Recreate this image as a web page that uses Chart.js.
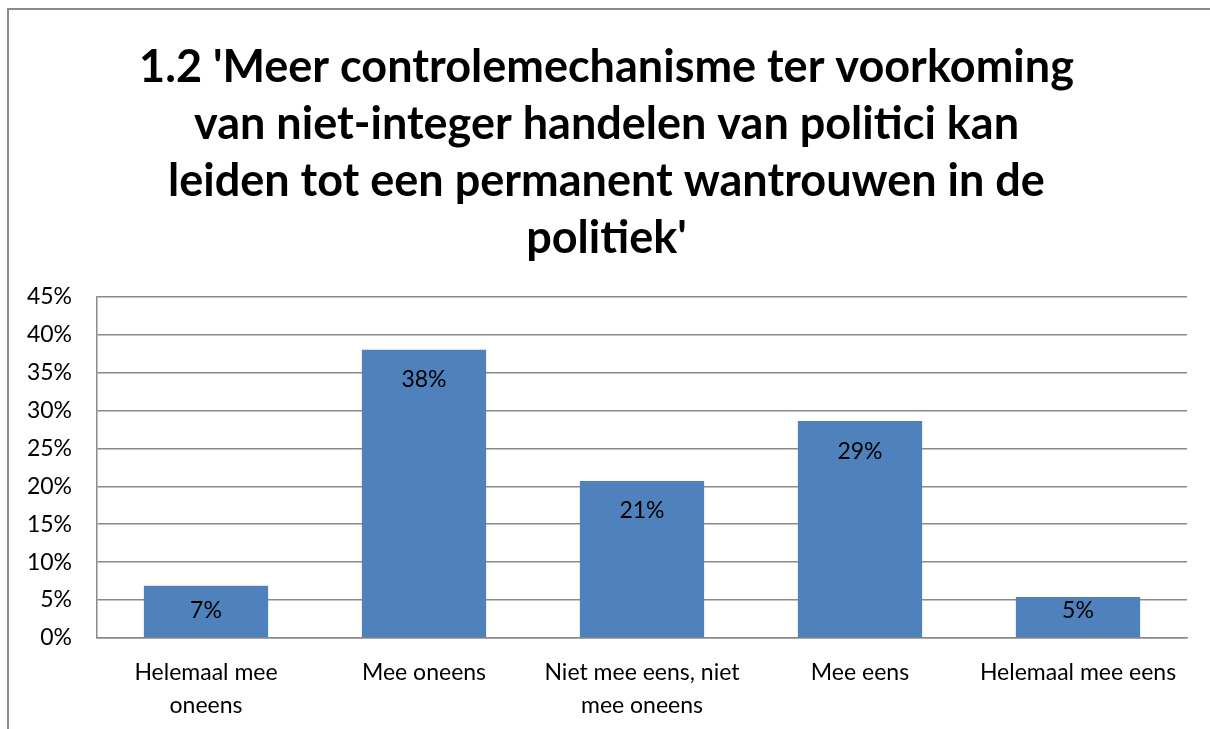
<!DOCTYPE html>
<html>
<head>
<meta charset="utf-8">
<script src="https://cdn.jsdelivr.net/npm/chart.js@4"></script>
<style>
  html, body { margin: 0; padding: 0; background: #fff; overflow: hidden; }
  #frame { position: absolute; left: 7px; top: 8px; width: 1400px; height: 900px; border: 2px solid #8a8a8a; box-sizing: border-box; }
  #chart { position: absolute; left: 8px; top: 0; }
</style>
</head>
<body>
<div id="frame"></div>
<canvas id="chart" width="1206" height="729"></canvas>
<script>
const categories = [
  ['Helemaal mee', 'oneens'],
  'Mee oneens',
  ['Niet mee eens, niet', 'mee oneens'],
  'Mee eens',
  'Helemaal mee eens'
];
const values = [6.9, 38.0, 20.7, 28.6, 5.4];
const valueLabels = ['7%', '38%', '21%', '29%', '5%'];
const titleLines = [
  "1.2 'Meer controlemechanisme ter voorkoming",
  "van niet-integer handelen van politici kan",
  "leiden tot een permanent wantrouwen in de",
  "politiek'"
];

const FONT = 'Lato, "Liberation Sans", sans-serif';

// labels inside the bar end, like Excel does
const barLabels = {
  id: 'barLabels',
  afterDatasetsDraw(chart) {
    const ctx = chart.ctx;
    const meta = chart.getDatasetMeta(0);
    ctx.save();
    ctx.font = '23px ' + FONT;
    ctx.fillStyle = '#000';
    ctx.textAlign = 'center';
    ctx.textBaseline = 'middle';
    meta.data.forEach((bar, i) => {
      const y = Math.min(bar.y + 30, bar.base - 27);
      ctx.fillText(valueLabels[i], bar.x, y);
    });
    ctx.restore();
  }
};

new Chart(document.getElementById('chart'), {
  type: 'bar',
  data: {
    labels: categories,
    datasets: [{
      data: values,
      backgroundColor: '#4f81bd',
      barPercentage: 0.57,
      categoryPercentage: 1
    }]
  },
  options: {
    responsive: false,
    animation: false,
    layout: { padding: { left: 18, right: 27, top: 0, bottom: 0 } },
    plugins: {
      legend: { display: false },
      tooltip: { enabled: false },
      title: {
        display: true,
        text: titleLines,
        color: '#000',
        font: { family: FONT, size: 45, weight: 'bold', lineHeight: 1.265 },
        padding: { top: 39, bottom: 30 }
      }
    },
    scales: {
      x: {
        grid: { display: false, drawTicks: false },
        border: { color: '#8a8a8a', width: 1.5 },
        ticks: {
          color: '#000',
          font: { family: FONT, size: 23, lineHeight: 1.45 },
          padding: 18,
          maxRotation: 0,
          autoSkip: false
        },
        afterFit(scale) { scale.height = 91; }
      },
      y: {
        min: 0,
        max: 45,
        grid: { color: '#8a8a8a', lineWidth: 1.5, drawTicks: false },
        border: { color: '#8a8a8a', width: 1.5 },
        ticks: {
          stepSize: 5,
          color: '#000',
          font: { family: FONT, size: 23 },
          padding: 25,
          callback: v => v + '%'
        },
        afterFit(scale) { scale.width = 71; }
      }
    }
  },
  plugins: [barLabels]
});
</script>
</body>
</html>
